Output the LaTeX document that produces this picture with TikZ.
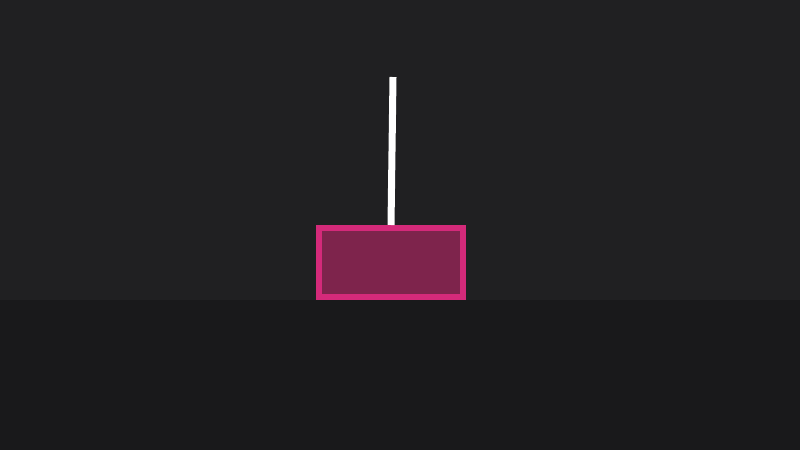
\documentclass[tikz,border=0pt]{standalone}
\usetikzlibrary{positioning}
\definecolor{bgtop}{HTML}{202022}
\definecolor{bgbot}{HTML}{19191B}
\definecolor{pinkedge}{HTML}{D42A7A}
\definecolor{pinkfill}{HTML}{7E244C}
\tikzset{
  weight/.style={draw=pinkedge, fill=pinkfill, line width=0.15cm, rectangle,
    minimum width=3.6cm, minimum height=1.725cm, inner sep=0pt},
  rope/.style={draw=white, line width=0.175cm}
}
\begin{document}
\begin{tikzpicture}[x=0.025cm, y=-0.025cm]
	\fill[bgtop] (0,0) rectangle (800,300);
	\fill[bgbot] (0,300) rectangle (800,450);
	\useasboundingbox (0,0) rectangle (800,450);
	
	\coordinate (pivot) at (393,77);
	\node (mass) [weight] at (391,262.5) {};
	
	\draw[rope] (pivot) -- (mass.north);
\end{tikzpicture}
\end{document}
